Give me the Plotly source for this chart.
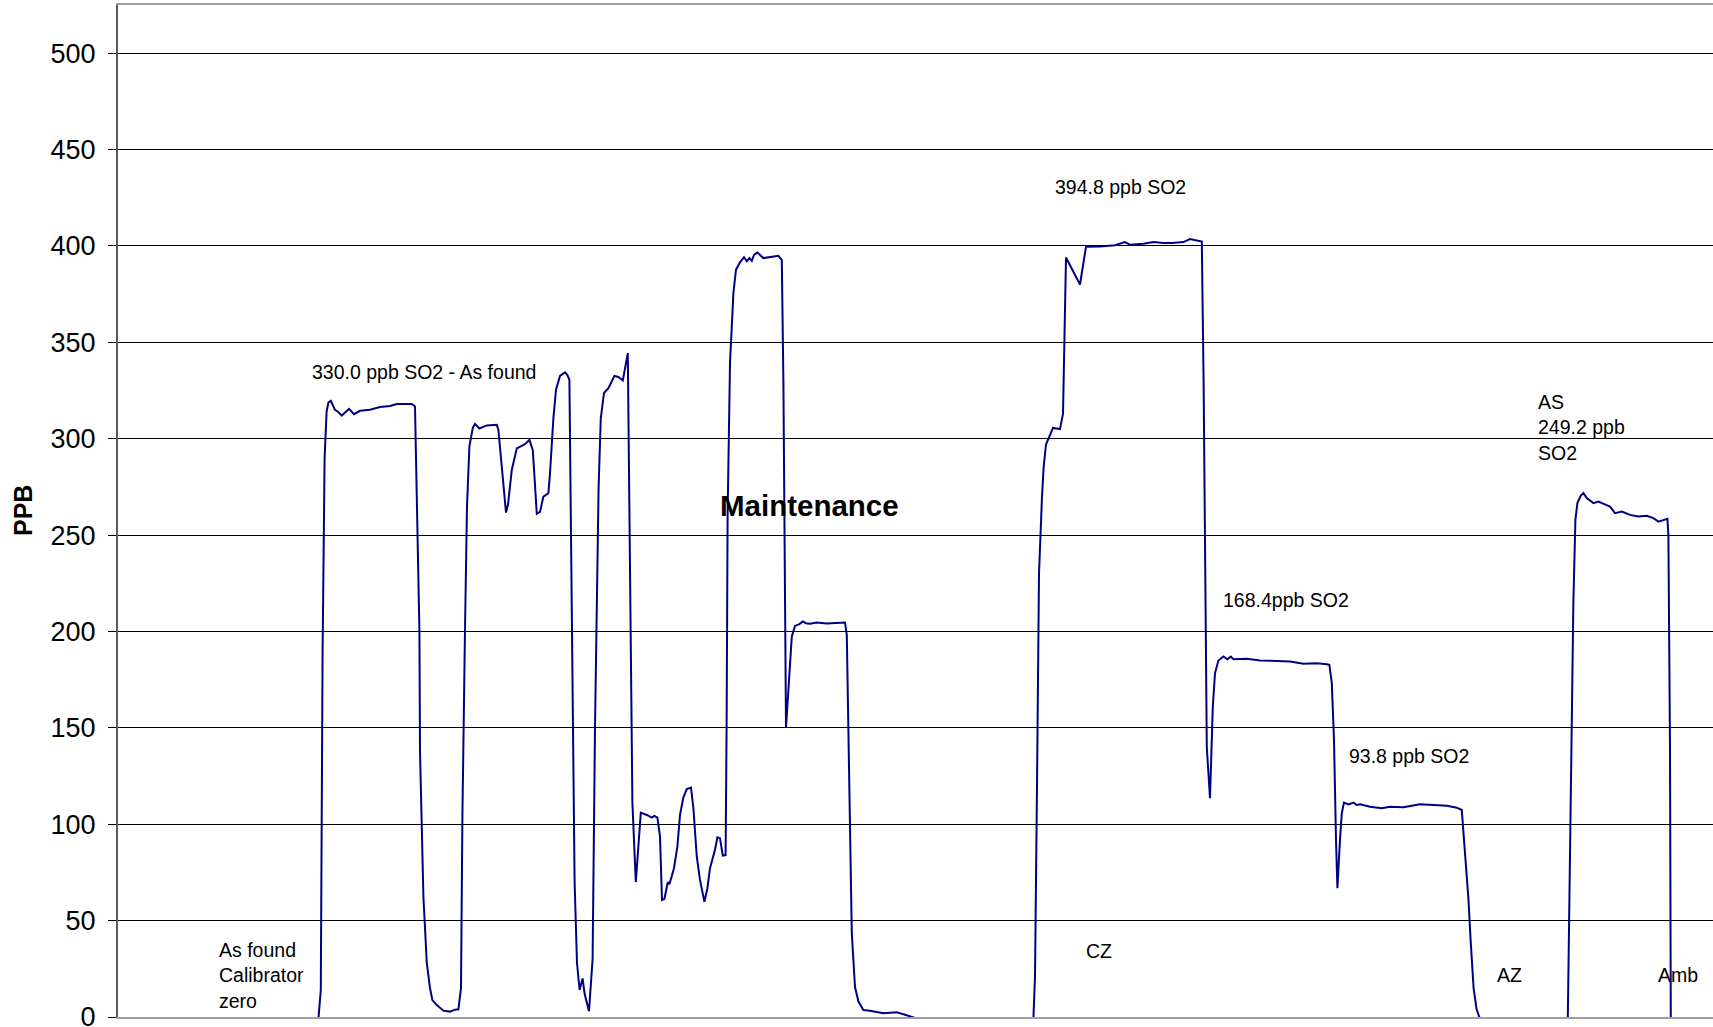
import plotly.graph_objects as go

# Elapsed time (minutes) and SO2 reading (ppb)
time_min = [
    0, 100.2, 101.4, 102.3, 103.3, 104.3, 105.2, 106.4, 108.5, 110, 111.9, 113.5, 115.5, 118, 121, 126,
    131, 136, 139.4, 143, 146.9, 148.5, 150.7, 151, 152.7, 154.4, 156, 157.2, 159.4, 162.7, 166, 168.5,
    170.2, 171.5, 172.2, 173.5, 174.5, 175.7, 177.4, 178.5, 180.7, 184.4, 189.4, 190.2, 192, 194, 195,
    196.9, 199.4, 203.5, 205.7, 207.4, 209.4, 211, 212.7, 215.2, 216, 217.7, 219, 221, 223.5, 224.7,
    225.7, 226.9, 227.5, 228.3, 229.5, 230.8, 232.3, 233.3, 235.5, 237.3, 238.5, 239.5, 240.3, 241.4,
    243, 245.2, 248.2, 250.2, 252.4, 254.9, 255.4, 257.2, 258.9, 260.2, 261.4, 264.4, 266.9, 268.2,
    269.7, 271, 272, 273.2, 274.9, 275.7, 278, 279.7, 281, 282.7, 284.4, 286.5, 287.7, 289.4, 291,
    293.2, 294.7, 296, 297.7, 298.5, 299.7, 301, 302.4, 303.8, 304.3, 304.8, 306, 307.7, 309, 311, 313,
    314.4, 315.7, 316.9, 318, 319.7, 322.7, 326, 330.2, 331.9, 332.7, 334, 336.9, 338.5, 340.7, 342.4,
    344, 346, 349.4, 354.4, 358.5, 361, 363.5, 364.4, 365.2, 366, 366.9, 368.5, 370.2, 372.7, 376,
    382.7, 389.4, 393.5, 396, 400, 457.7, 458.5, 459.5, 460.5, 462, 462.8, 464, 467.5, 471, 472.5, 474,
    481, 484, 491, 498.5, 503.5, 506, 512.7, 517.7, 522.7, 526.9, 532.7, 536, 539.4, 541.9, 542.8,
    544.4, 546, 547.4, 548.5, 550.2, 552.7, 554.7, 556.4, 557.7, 564.4, 571, 579.4, 586, 592.7, 599.4,
    604.4, 605.7, 606.9, 608, 609, 609.7, 611, 611.9, 613, 615.2, 617.7, 619.4, 621, 626, 631.9, 636,
    642.7, 651, 657.7, 664.4, 669.4, 671.9, 673, 675.2, 676.3, 677.8, 679.3, 681, 724.9, 726.5, 727.7,
    728.7, 729.7, 731.4, 732.7, 734.4, 737.7, 740.2, 743.5, 746, 748.5, 751.9, 756, 760.2, 764.4,
    767.7, 770.2, 772.7, 774.7, 775.2, 776, 776.4, 783.5,
]
so2_ppb = [
    -1, -1, 14, 190, 290, 314, 318.8, 319.7, 315, 314, 312, 313.5, 315.5, 312.7, 314.5, 315,
    316.4, 317, 318, 318, 318, 316.7, 201, 138, 62.4, 28, 15, 8.8, 6.2, 3.3, 2.8, 3.8,
    4, 15, 104, 201, 265, 296, 305.6, 307.7, 305.3, 306.9, 307.2, 304.6, 285, 261.7, 265.7,
    283.9, 295, 297.2, 299.4, 294, 261, 262, 270, 271.7, 282, 310.7, 325.4, 332.6, 334.4, 333,
    330.6, 206, 150, 70, 28, 14, 20, 12, 3, 30, 150, 215, 275, 310.7,
    323.7, 326.2, 332.6, 332, 330.2, 344.4, 300, 111, 70, 92, 106, 104.8, 103.4, 104.3,
    103.4, 93.6, 60.7, 61.2, 69.9, 68.9, 77.2, 88.5, 104.8, 114, 118.2, 119, 108.3, 83.2, 71.1,
    59.8, 66.8, 77.2, 84, 86.7, 93.2, 92.7, 83.7, 84, 150, 260, 339.2, 375.6, 387.7, 391.5, 394.2,
    392, 393.7, 392.3, 395.4, 396.6, 393.7, 394.2, 394.9, 392.8, 330, 150.1, 197.4, 202.9, 203.8, 205.2,
    204.3, 204, 204.6, 204.2, 204.3, 204.6, 204.6, 198.2, 150.7, 98.8, 43.4, 15.7, 8, 3.6, 3.2,
    1.9, 2.4, 1.2, 0.2, -1, -1, 21, 120, 230, 270, 285, 297, 305.6, 305, 313, 394,
    380, 399.6, 399.7, 400.4, 402, 400.6, 401.1, 402, 401.5, 401.5, 402, 403.6, 402.9, 402.3, 330,
    140, 113.5, 161, 178.3, 184.9, 187, 185.6, 187, 185.6, 185.8, 184.9, 184.7, 184.4, 183.2, 183.5,
    183, 182.7, 173.2, 143.7, 91.9, 66.8, 91.9, 105.7, 111.2, 110.3, 111.2, 110, 110.3, 109.1, 108.3, 109.1,
    108.8, 110.4, 110, 109.6, 108.6, 107.4, 91.9, 61.6, 40, 15, 4, -1, -1, 139.6, 216,
    257.9, 266.6, 270.5, 271.8, 269.2, 266.6, 267.4, 265.7, 264.8, 261.4, 262.2, 260.5, 259.6, 260,
    258.8, 257, 257.9, 258.4, 250, 139.6, -1, -1,
]

y_ticks = [0, 50, 100, 150, 200, 250, 300, 350, 400, 450, 500]

label_text = [
    "As found<br>Calibrator<br>zero",
    "330.0 ppb SO2 - As found",
    "394.8 ppb SO2",
    "CZ",
    "168.4ppb SO2",
    "93.8 ppb SO2",
    "AZ",
    "Amb",
    "AS<br>249.2 ppb<br>SO2",
]
label_time = [49.5, 96, 467.5, 483, 551.5, 614.5, 688.3, 769, 709]
label_ppb = [21.3, 334.4, 430.6, 34, 216.3, 135.4, 22, 22, 305.6]

bold_label = "Maintenance"
bold_time = 300
bold_ppb = 265.6

FONT = "Liberation Sans, Arial, sans-serif"

fig = go.Figure()
fig.add_trace(go.Scatter(
    x=time_min, y=so2_ppb, mode="lines",
    line=dict(color="#000080", width=2),
    showlegend=False, hoverinfo="skip",
))

annotations = []
for txt, t, v in zip(label_text, label_time, label_ppb):
    annotations.append(dict(
        x=t, y=v, xref="x", yref="y", text=txt, showarrow=False,
        xanchor="left", yanchor="middle", align="left",
        font=dict(family=FONT, size=19.5, color="#000000"),
    ))
annotations.append(dict(
    x=bold_time, y=bold_ppb, xref="x", yref="y", text="<b>" + bold_label + "</b>",
    showarrow=False, xanchor="left", yanchor="middle",
    font=dict(family=FONT, size=29.5, color="#000000"),
))
annotations.append(dict(
    x=(23 - 118) / 1595, y=(1017 - 511) / 1012, xref="paper", yref="paper",
    text="<b>PPB</b>", textangle=-90, showarrow=False,
    xanchor="center", yanchor="middle",
    font=dict(family=FONT, size=25, color="#000000"),
))

fig.update_layout(
    width=1713, height=1027,
    margin=dict(l=118, r=0, t=5, b=10, pad=0, autoexpand=False),
    paper_bgcolor="white", plot_bgcolor="white",
    font=dict(family=FONT, color="#000000"),
    annotations=annotations,
    xaxis=dict(
        range=[0, 797.5], showgrid=False, zeroline=False,
        showticklabels=False, ticks="", automargin=False,
        showline=True, mirror=True, linecolor="#a0a0a0", linewidth=2,
    ),
    yaxis=dict(
        range=[0, 525], tickmode="array", tickvals=y_ticks,
        ticktext=[str(v) for v in y_ticks],
        showgrid=True, gridcolor="#000000", gridwidth=1,
        zeroline=False, automargin=False,
        showline=True, linecolor="#5a5a5a", linewidth=2,
        ticks="outside", ticklen=8, tickwidth=1, tickcolor="#000000",
        ticklabelstandoff=7, ticklabeloverflow="allow",
        tickfont=dict(family=FONT, size=27, color="#000000"),
    ),
)

fig.write_html(
    "out.html",
    config={"displayModeBar": False},
    post_script="document.body.style.margin='0';document.body.style.overflow='hidden';",
)
